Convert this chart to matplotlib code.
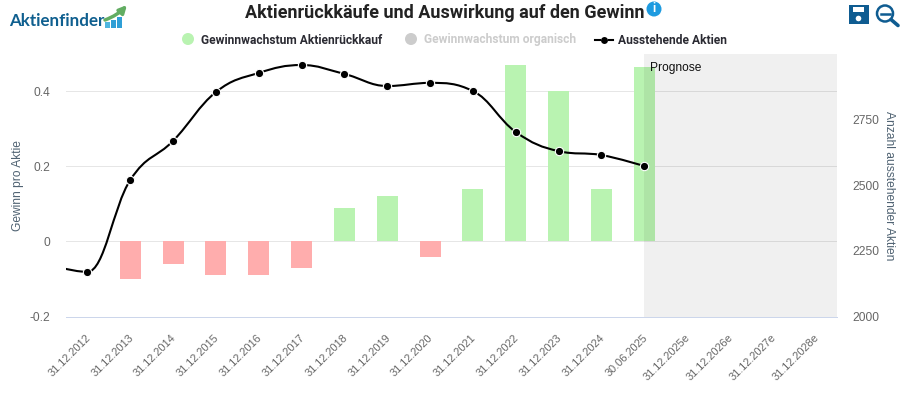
import matplotlib
matplotlib.use("Agg")
import matplotlib.pyplot as plt
from matplotlib.patches import Circle, FancyArrowPatch, PathPatch, Rectangle
from matplotlib.path import Path
from matplotlib.transforms import ScaledTranslation

plt.rcParams['font.family'] = ['Roboto', 'DejaVu Sans']

W, H = 908, 393

categories = ['31.12.2012', '31.12.2013', '31.12.2014', '31.12.2015', '31.12.2016', '31.12.2017',
              '31.12.2018', '31.12.2019', '31.12.2020', '31.12.2021', '31.12.2022', '31.12.2023',
              '31.12.2024', '30.06.2025', '31.12.2025e', '31.12.2026e', '31.12.2027e', '31.12.2028e']
# first bar slot (2012) is empty
buyback_growth = [None, -0.10, -0.06, -0.09, -0.09, -0.07, 0.09, 0.12, -0.04, 0.14, 0.47, 0.40, 0.14, 0.465]
shares = [2170, 2520, 2669, 2855, 2928, 2958, 2924, 2878, 2890, 2859, 2703, 2630, 2615, 2573]
# point before the visible range, only its line stub shows at the left edge
shares_before = 2205
left_ticks = [-0.2, 0, 0.2, 0.4]
left_labels = ['-0.2', '0', '0.2', '0.4']
right_ticks = [2000, 2250, 2500, 2750]

GREEN = '#b9f3b1'
RED = '#ffadad'
GREY_TXT = '#666666'
DARK = '#2b2b33'
BLUE = '#0f5c91'
ARIAL = 'Liberation Sans'


def px(size):
    return size * 0.72


def spline_path(xs, ys):
    # same control points as a Highcharts spline
    verts = [(xs[0], ys[0])]
    codes = [Path.MOVETO]
    right = (xs[0], ys[0])
    n = len(xs)
    for i in range(1, n):
        x, y = xs[i], ys[i]
        if i < n - 1:
            lx, ly = (1.5 * x + xs[i - 1]) / 2.5, (1.5 * y + ys[i - 1]) / 2.5
            rx, ry = (1.5 * x + xs[i + 1]) / 2.5, (1.5 * y + ys[i + 1]) / 2.5
            corr = (ry - ly) * (rx - x) / (rx - lx) + y - ry
            ly += corr
            ry += corr
            if ly > ys[i - 1] and ly > y:
                ly = max(ys[i - 1], y)
                ry = 2 * y - ly
            elif ly < ys[i - 1] and ly < y:
                ly = min(ys[i - 1], y)
                ry = 2 * y - ly
            if ry > ys[i + 1] and ry > y:
                ry = max(ys[i + 1], y)
                ly = 2 * y - ry
            elif ry < ys[i + 1] and ry < y:
                ry = min(ys[i + 1], y)
                ly = 2 * y - ry
        else:
            lx, ly = x, y
            rx, ry = x, y
        verts += [right, (lx, ly), (x, y)]
        codes += [Path.CURVE4, Path.CURVE4, Path.CURVE4]
        right = (rx, ry)
    return Path(verts, codes)


fig = plt.figure(figsize=(W / 100, H / 100), dpi=100)
ax = fig.add_axes([66 / W, 1 - 316.5 / H, (837 - 66) / W, (316.5 - 54) / H])
ax2 = ax.twinx()

pos = list(range(len(categories)))
for i, v in enumerate(buyback_growth):
    if v is not None:
        ax.bar(i, v, width=0.49, color=GREEN if v > 0 else RED, zorder=3)

# forecast band lies over the bars, they show through it
ax.axvspan(13, 17.5, color='black', alpha=0.06, lw=0, zorder=4)
ax.text(13.13, 0.464, 'Prognose', fontsize=px(12), color='#111111', va='center', zorder=6, family=ARIAL)

ax.set_xlim(-0.5, 17.5)
ax.set_ylim(-0.2, 0.5)
ax.set_yticks(left_ticks, left_labels, family=ARIAL, va='center_baseline')
ax.set_xticks(pos, categories, rotation=45, ha='right', rotation_mode='anchor', family=ARIAL)
ax.grid(axis='y', color='#e6e6e6', lw=0.72, zorder=0)
ax.set_axisbelow(True)
for name in ['top', 'left', 'right']:
    ax.spines[name].set_visible(False)
ax.spines['bottom'].set_color('#ccd6eb')
ax.spines['bottom'].set_linewidth(0.72)
ax.tick_params(axis='x', length=0, pad=11.5, labelsize=px(11), labelcolor=GREY_TXT)
ax.tick_params(axis='y', length=0, pad=11, labelsize=px(12), labelcolor=GREY_TXT)
for label in ax.get_xticklabels():
    label.set_transform(label.get_transform() + ScaledTranslation(-2 / 100, 0, fig.dpi_scale_trans))
ax.set_ylabel('Gewinn pro Aktie', fontsize=px(12), color='#4f6272', va='center', family=ARIAL)
ax.yaxis.set_label_coords((18 - 66) / (837 - 66), 0.5)

ax2.set_ylim(2000, 3000)
ax2.set_yticks(right_ticks, [str(t) for t in right_ticks], family=ARIAL, va='center_baseline')
ax2.tick_params(axis='y', length=0, pad=11, labelsize=px(12), labelcolor=GREY_TXT)
for name in ['top', 'left', 'right', 'bottom']:
    ax2.spines[name].set_visible(False)
ax2.set_ylabel('Anzahl ausstehender Aktien', fontsize=px(12), color='#4f6272', rotation=270, va='center', family=ARIAL)
ax2.yaxis.set_label_coords((889 - 66) / (837 - 66), 0.5)

line_x = [-1] + list(range(len(shares)))
line_y = [shares_before] + shares
ax2.add_patch(PathPatch(spline_path(line_x, line_y), fill=False, edgecolor='black', lw=1.5, capstyle='round'))
ax2.plot(range(len(shares)), shares, ls='none', marker='o', ms=6, mfc='black', mec='white', mew=0.8, zorder=5)

# title, legend, logo and icons are placed in pixels
deco = fig.add_axes([0, 0, 1, 1], facecolor='none')
deco.set_xlim(0, W)
deco.set_ylim(H, 0)
deco.axis('off')

deco.text(444.5, 13, 'Aktienrückkäufe und Auswirkung auf den Gewinn', fontsize=px(18), fontweight='bold',
          color='#222222', ha='center', va='center')
deco.add_patch(Circle((654, 9), 7.5, color='#1e9be0', lw=0))
deco.text(654, 9, 'i', fontsize=px(12), fontweight='bold', color='white', ha='center', va='center')

deco.add_patch(Circle((188, 39), 6, color=GREEN, lw=0))
deco.text(201, 40, 'Gewinnwachstum Aktienrückkauf', fontsize=px(12), fontweight='bold', color=DARK, va='center')
deco.add_patch(Circle((411, 39), 6, color='#cccccc', lw=0))
deco.text(424, 40, 'Gewinnwachstum organisch', fontsize=px(12), fontweight='bold', color='#cccccc', va='center')
deco.plot([595, 600], [39.5, 39.5], color='black', lw=1.5)
deco.plot([608.5, 613], [39.5, 39.5], color='black', lw=1.5)
deco.plot([604], [39.5], marker='o', ms=5, mfc='black', mec='none')
deco.text(618, 40, 'Ausstehende Aktien', fontsize=px(12), fontweight='bold', color=DARK, va='center')

deco.text(9.5, 21.5, 'Aktienfinder', fontsize=px(17), fontweight='bold', color='#0f5f8f', family='Lato', va='center')
for x0, top, c in [(105, 22, '#4fb6e0'), (111, 20, '#2f9fd6'), (117, 17, '#2f9fd6')]:
    deco.add_patch(Rectangle((x0, top), 5, 27.5 - top, color=c, lw=0))
deco.add_patch(FancyArrowPatch((105, 20), (127, 5), connectionstyle='arc3,rad=0.12', arrowstyle='-|>',
                               mutation_scale=11, lw=2.5, color='#62ad62', shrinkA=0, shrinkB=0))

# save icon
deco.add_patch(Rectangle((849, 5), 20, 19, color=BLUE, lw=0))
deco.add_patch(Rectangle((853, 6.5), 11, 5.5, color='white', lw=0))
deco.add_patch(Circle((858.5, 18.5), 2.8, color='white', lw=0))
# zoom out icon
deco.add_patch(Circle((885, 13.5), 8, fill=False, ec=BLUE, lw=1.8))
deco.plot([880.5, 889.5], [13.5, 13.5], color=BLUE, lw=1.8)
deco.plot([891, 898], [19.5, 25.5], color=BLUE, lw=2.6, solid_capstyle='round')

fig.savefig('out.png', dpi=100)
